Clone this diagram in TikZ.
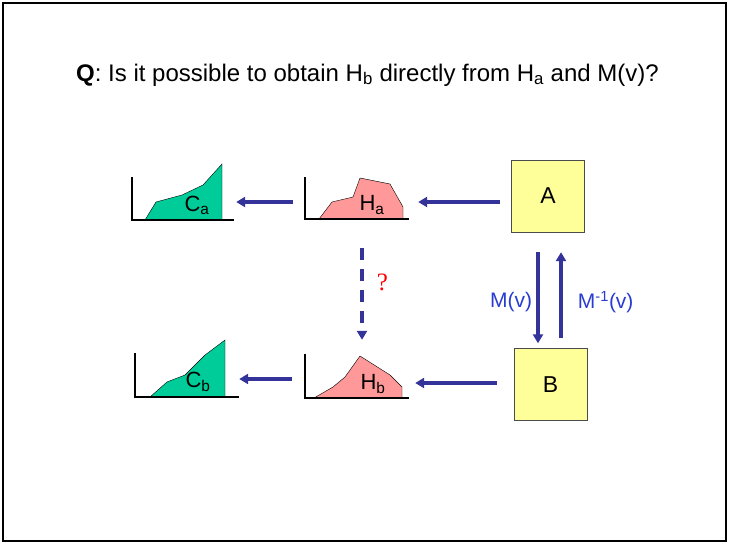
\documentclass[tikz,border=0pt]{standalone}
\usepackage{fontspec}
\setmainfont{Liberation Sans}
\usetikzlibrary{arrows.meta}

\definecolor{arrowblue}{RGB}{51,51,153}
\definecolor{labelblue}{RGB}{40,60,210}
\definecolor{boxyellow}{RGB}{255,255,153}
\definecolor{histpink}{RGB}{255,153,153}
\definecolor{cumgreen}{RGB}{0,204,153}

\begin{document}
\begin{tikzpicture}[
    x=1pt, y=-1pt,
    mapbox/.style={rectangle, draw=black!70, fill=boxyellow, minimum width=73pt, minimum height=72pt, font=\fontsize{23}{27}\selectfont},
    chart/.style={rectangle, inner sep=0pt, minimum width=103pt},
    chartlabel/.style={font=\fontsize{22}{26}\selectfont, inner sep=0pt},
    axis/.style={line width=2.8pt, line cap=rect},
    arrow/.style={-{Triangle[length=9pt,width=10pt]}, draw=arrowblue, line width=3.2pt},
    dasharrow/.style={arrow, dash pattern=on 12pt off 9pt},
    maplabel/.style={text=labelblue, font=\fontsize{21}{25}\selectfont}
]
    \useasboundingbox (0,0) rectangle (729,544);
    \draw[line width=1.8pt] (3,3) rectangle (726,541);

    \node[font=\fontsize{24}{28}\selectfont] (question) at (367.5,75)
        {\textbf{Q}: Is it possible to obtain H\textsubscript{b} directly from H\textsubscript{a} and M(v)?};

    \node[mapbox] (A) at (548,196) {A};
    \node[mapbox] (B) at (550.5,384.5) {B};

    % histograms and cumulative histograms
    \node[chart, minimum height=34pt] (Ha) at (356.5,202) {};
    \node[chart, minimum height=86pt] (Hb) at (356.5,383) {};
    \node[chart, minimum width=101pt] (Ca) at (182.5,202) {};
    \node[chart] (Cb) at (186.5,379) {};

    \draw[fill=cumgreen, thin] (145,220) -- (156,202) -- (182,195) -- (203,185) -- (222,164) -- (222,220) -- cycle;
    \draw[axis] (132,178) -- (132,220) -- (233,220);
    \node[chartlabel] (caLabel) at (197,205) {C\textsubscript{a}};

    \draw[fill=histpink, thin] (319,219) -- (332,202) -- (353,197) -- (360,178) -- (390,184) -- (403,207) -- (403,219) -- cycle;
    \draw[axis] (305,178) -- (305,219) -- (408,219);
    \node[chartlabel] (haLabel) at (372,205) {H\textsubscript{a}};

    \draw[fill=cumgreen, thin] (150,397) -- (167,382) -- (185,375) -- (205,355) -- (225,340) -- (225,397) -- cycle;
    \draw[axis] (135,354) -- (135,397) -- (238,397);
    \node[chartlabel] (cbLabel) at (198,382) {C\textsubscript{b}};

    \draw[fill=histpink, thin] (314,398) -- (333,387) -- (345,377) -- (360,356) -- (390,375) -- (402,387) -- (402,398) -- cycle;
    \draw[axis] (305,355) -- (305,398) -- (408,398);
    \node[chartlabel] (hbLabel) at (373,384) {H\textsubscript{b}};

    % connectors
    \draw[arrow, shorten <=11pt, shorten >=10pt] (A.west |- Ha.east) -- (Ha.east);
    \draw[arrow, shorten <=12pt, shorten >=3pt] (Ha.west) -- (Ca.east);
    \draw[arrow, shorten <=17pt, shorten >=7pt] (B.west |- Hb.east) -- (Hb.east);
    \draw[arrow, shorten <=13pt, shorten >=1pt] ([yshift=4pt]Hb.west) -- (Cb.east);

    \draw[arrow, shorten <=20pt, shorten >=5pt] ([xshift=-10pt]A.south) -- ([xshift=-10pt]A.south |- B.north)
        node[maplabel, midway, left, xshift=-1pt, yshift=-12pt] {M(v)};
    \draw[arrow, shorten <=10pt, shorten >=20pt] ([xshift=13pt]A.south |- B.north) -- ([xshift=13pt]A.south)
        node[maplabel, midway, right, xshift=12pt, yshift=-12pt] {M\textsuperscript{-1}(v)};

    \draw[dasharrow, shorten <=29pt] ([xshift=5.5pt]Ha.south) -- ([xshift=5.5pt]Hb.north)
        node[midway, right, xshift=10pt, yshift=-3pt, text=red, font=\fontspec{Liberation Serif}\fontsize{25}{30}\selectfont] {?};
\end{tikzpicture}
\end{document}
